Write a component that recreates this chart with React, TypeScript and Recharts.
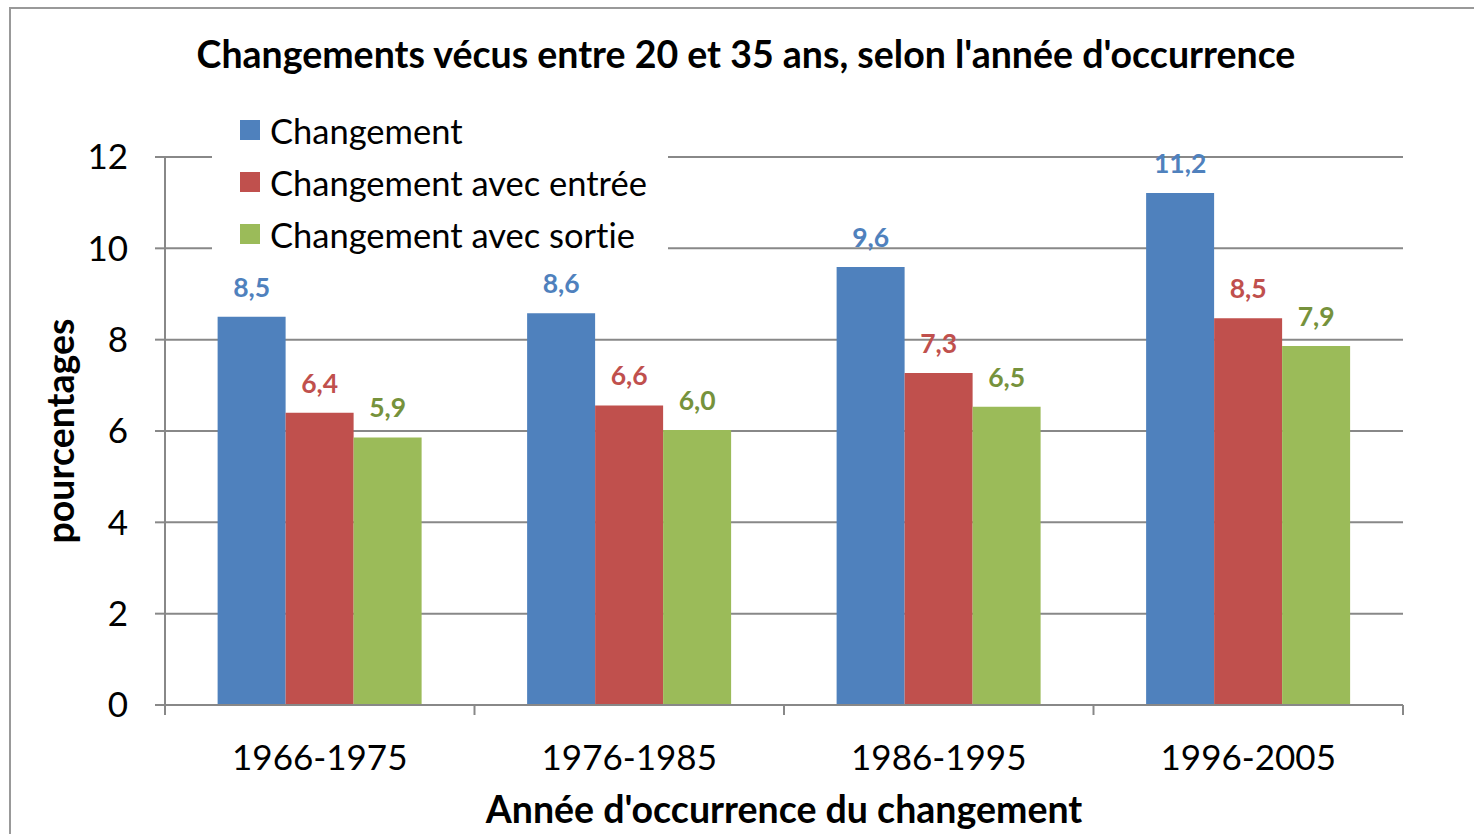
import React from 'react';
import { BarChart, Bar, XAxis, YAxis, CartesianGrid, Legend, LabelList } from 'recharts';

const categories = ['1966-1975', '1976-1985', '1986-1995', '1996-2005'];
const changement = [8.5, 8.58, 9.59, 11.21];
const avecEntree = [6.4, 6.56, 7.27, 8.47];
const avecSortie = [5.86, 6.02, 6.53, 7.86];
const yTicks = [0, 2, 4, 6, 8, 10, 12];

const series = [
  { key: 'changement', name: 'Changement', color: '#4F81BD', labelColor: '#4F81BD' },
  { key: 'avecEntree', name: 'Changement avec entrée', color: '#C0504D', labelColor: '#C0504D' },
  { key: 'avecSortie', name: 'Changement avec sortie', color: '#9BBB59', labelColor: '#76923C' },
];

const data = categories.map((c, i) => ({
  cat: c,
  changement: changement[i],
  avecEntree: avecEntree[i],
  avecSortie: avecSortie[i],
}));

const W = 1474;
const H = 834;
const MARGIN = { top: 157, right: 71, left: 40, bottom: 0 };
const Y_AXIS_W = 125;
const X_AXIS_H = 129;
const PLOT_W = W - MARGIN.left - MARGIN.right - Y_AXIS_W;
const BAND = PLOT_W / categories.length;
const FONT = 'Lato, "Noto Sans", sans-serif';
const GRAY = '#888888';
const NO_LIGA = '"liga" 0, "clig" 0, "dlig" 0';

const fmt = (v: any) => Number(v).toFixed(1).replace('.', ',');

const XTick = (props: any) => {
  const { x, y, payload, index } = props;
  const top = y - 10;
  return (
    <g>
      <line x1={x - BAND / 2} y1={top} x2={x - BAND / 2} y2={y} stroke={GRAY} strokeWidth={2} />
      {index === categories.length - 1 && (
        <line x1={x + BAND / 2} y1={top} x2={x + BAND / 2} y2={y} stroke={GRAY} strokeWidth={2} />
      )}
      <text x={x} y={y + 55} textAnchor="middle" fontSize={35} fill="#000" fontFamily={FONT}>
        {payload.value}
      </text>
    </g>
  );
};

const LegendContent = (props: any) => {
  const payload = props.payload || [];
  return (
    <div style={{ background: '#fff', width: 456, height: 154, paddingTop: 0, boxSizing: 'border-box' }}>
      {payload.map((p: any) => (
        <div
          key={p.value}
          style={{
            display: 'flex',
            alignItems: 'center',
            height: 52,
            fontFamily: FONT,
            fontSize: 34.5,
            color: '#000',
            fontVariantLigatures: 'none',
            fontFeatureSettings: NO_LIGA,
          }}
        >
          <span style={{ display: 'inline-block', width: 20, height: 20, background: p.color, marginLeft: 28, marginRight: 10 }} />
          <span style={{ fontFeatureSettings: NO_LIGA, fontVariantLigatures: 'none' }}>{p.value}</span>
        </div>
      ))}
    </div>
  );
};

export default function App() {
  return (
    <div style={{ position: 'absolute', left: 0, top: 0, width: W, height: H, overflow: 'hidden', background: '#fff' }}>
      <div style={{ position: 'absolute', left: 9, top: 7, width: 1600, height: 1000, border: '2px solid #999', boxSizing: 'border-box' }} />
      <div style={{ position: 'absolute', left: 0, top: 0, fontVariantLigatures: 'none', fontFeatureSettings: NO_LIGA }}>
        <BarChart width={W} height={H} data={data} margin={MARGIN} barCategoryGap="17%" barGap={0}>
          <CartesianGrid vertical={false} stroke={GRAY} strokeWidth={2} />
          <XAxis
            dataKey="cat"
            height={X_AXIS_H}
            axisLine={{ stroke: GRAY, strokeWidth: 2 }}
            tickLine={false}
            tickSize={10}
            tickMargin={0}
            tick={<XTick />}
            interval={0}
            label={({ viewBox }: any) => (
              <text
                x={viewBox.x + viewBox.width / 2}
                y={viewBox.y + 118}
                textAnchor="middle"
                fontSize={37.5}
                fontWeight="bold"
                fontFamily={FONT}
                fill="#000"
              >
                Année d'occurrence du changement
              </text>
            )}
          />
          <YAxis
            width={Y_AXIS_W}
            domain={[0, 12]}
            ticks={yTicks}
            interval={0}
            axisLine={{ stroke: GRAY, strokeWidth: 2 }}
            tickLine={{ stroke: GRAY, strokeWidth: 2 }}
            tickSize={10}
            tickMargin={27}
            tick={{ fontSize: 35, fill: '#000', fontFamily: FONT }}
            label={({ viewBox }: any) => {
              const cx = viewBox.x + 19;
              const cy = viewBox.y + viewBox.height / 2;
              return (
                <text
                  x={cx}
                  y={cy}
                  transform={`rotate(-90, ${cx}, ${cy})`}
                  textAnchor="middle"
                  dominantBaseline="central"
                  fontSize={37.5}
                  fontWeight="bold"
                  fontFamily={FONT}
                  fill="#000"
                >
                  pourcentages
                </text>
              );
            }}
          />
          <Legend
            layout="vertical"
            align="center"
            verticalAlign="middle"
            content={<LegendContent />}
            wrapperStyle={{ position: 'absolute', left: 212, top: 104, width: 456, height: 154 }}
          />
          {series.map((s) => (
            <Bar key={s.key} dataKey={s.key} name={s.name} fill={s.color} isAnimationActive={false}>
              <LabelList
                dataKey={s.key}
                position="top"
                offset={20}
                formatter={fmt}
                fill={s.labelColor}
                fontSize={26.5}
                fontWeight="bold"
                fontFamily={FONT}
              />
            </Bar>
          ))}
        </BarChart>
      </div>
      <div
        style={{
          position: 'absolute',
          left: 0,
          top: 30,
          width: 1492,
          textAlign: 'center',
          fontFamily: FONT,
          fontSize: 37.5,
          fontWeight: 'bold',
          color: '#000',
          lineHeight: '48px',
          fontVariantLigatures: 'none',
          fontFeatureSettings: NO_LIGA,
        }}
      >
        Changements vécus entre 20 et 35 ans, selon l'année d'occurrence
      </div>
    </div>
  );
}
